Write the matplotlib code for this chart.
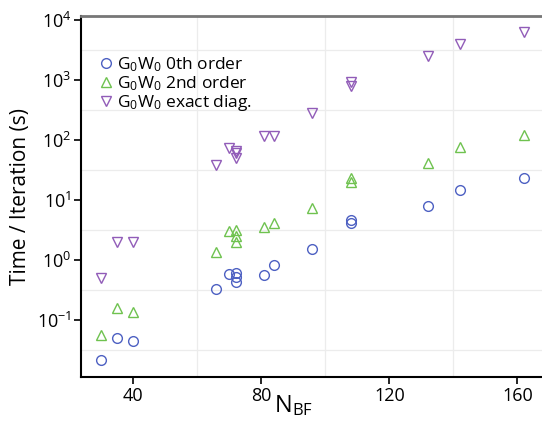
import matplotlib
matplotlib.use("Agg")
import matplotlib.pyplot as plt
from matplotlib.ticker import FixedLocator, NullFormatter
import numpy as np

plt.rcParams['font.family'] = ['Open Sans', 'DejaVu Sans']
plt.rcParams['mathtext.fontset'] = 'custom'
plt.rcParams['mathtext.rm'] = 'Open Sans'
plt.rcParams['mathtext.it'] = 'Open Sans'

# number of basis functions
n_bf = [30, 35, 40, 66, 70, 72, 72, 72, 81, 84, 96, 108, 108, 132, 142, 162]

# time per iteration (s)
t_0th = [0.0215, 0.051, 0.044, 0.33, 0.59, 0.6, 0.52, 0.43, 0.56, 0.83,
         1.55, 4.6, 4.2, 8.0, 14.7, 23]
t_2nd = [0.056, 0.158, 0.137, 1.36, 3.0, 3.2, 2.5, 2.0, 3.5, 4.1,
         7.4, 23, 20, 41, 77, 121]
t_exact = [0.5, 2.0, 2.0, 38, 73, 66, 60, 50, 117, 117,
           285, 920, 800, 2540, 4030, 6240]

labels = [r'G$_0$W$_0$ 0th order', r'G$_0$W$_0$ 2nd order', r'G$_0$W$_0$ exact diag.']
colors = ['#4d60c2', '#6fc24f', '#915cb8']
markers = ['o', '^', 'v']

fig = plt.figure(figsize=(5.42, 4.21), dpi=100)
ax = fig.add_axes([81/542, 1-377/421, 1-81/542+0.002, (377-16)/421])

for t, lab, c, m in zip([t_0th, t_2nd, t_exact], labels, colors, markers):
    ax.plot(n_bf, t, linestyle='none', marker=m, markersize=7,
            markerfacecolor='none', markeredgecolor=c, markeredgewidth=1.0,
            label=lab)

ax.set_yscale('log')
ax.set_xlim(23.75, 168)
ax.set_ylim(10**-1.95, 10**4.067)

ax.xaxis.set_major_locator(FixedLocator([40, 80, 120, 160]))
ax.xaxis.set_minor_locator(FixedLocator(np.arange(20, 180, 20)))
ax.yaxis.set_major_locator(FixedLocator([1e-1, 1e0, 1e1, 1e2, 1e3, 1e4]))
ax.yaxis.set_minor_locator(FixedLocator(10**np.arange(-2, 4.6, 0.5)))
ax.yaxis.set_minor_formatter(NullFormatter())

ax.grid(True, which='minor', color='#ececec', linewidth=0.9)
ax.set_axisbelow(True)

ax.tick_params(which='major', direction='out', length=5, width=1.2,
               labelsize=13, pad=2)
ax.tick_params(which='minor', length=0)

ax.spines['left'].set_linewidth(1.5)
ax.spines['bottom'].set_linewidth(1.5)
ax.spines['top'].set_color('#777777')
ax.spines['top'].set_linewidth(2)
ax.spines['right'].set_visible(False)

ax.set_ylabel('Time / Iteration (s)', fontsize=15, labelpad=4)
ax.set_xlabel(r'N$_{\mathrm{BF}}$', fontsize=17)
ax.xaxis.set_label_coords(0.46, -0.045)

leg = ax.legend(loc='upper left', bbox_to_anchor=(0.02, 0.92), frameon=False,
                fontsize=12.5, handlelength=0.6, handletextpad=0.35,
                labelspacing=0.0, borderaxespad=0.2)

fig.savefig('out.png', dpi=100)
